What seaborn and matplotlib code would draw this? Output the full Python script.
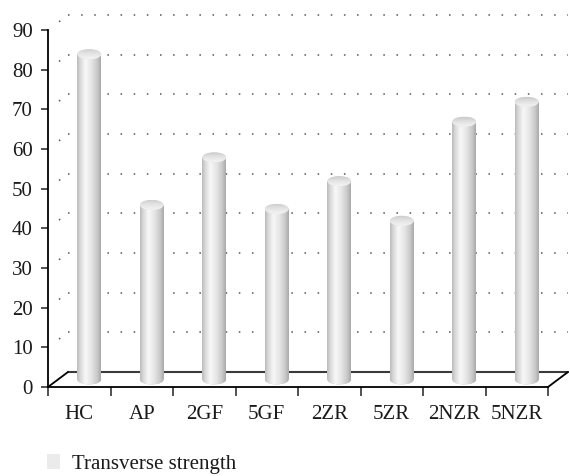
import numpy as np
import pandas as pd
import matplotlib
matplotlib.use('Agg')
import matplotlib.pyplot as plt
import matplotlib.transforms as mtransforms
from matplotlib.colors import LinearSegmentedColormap
from matplotlib.patches import Ellipse, Patch
import seaborn as sns

# data
groups = ['HC', 'AP', '2GF', '5GF', '2ZR', '5ZR', '2NZR', '5NZR']
strength = [82, 44, 56, 43, 50, 40, 65, 70]
series_name = 'Transverse strength'
y_ticks = list(range(0, 91, 10))

sns.set_theme(style='white')
plt.rcParams['font.family'] = ['Liberation Serif', 'DejaVu Serif']

fig = plt.figure(figsize=(5.7, 4.76), dpi=100)
ax = fig.add_axes([48 / 570, 89 / 476, 500 / 570, 357 / 476])

df = pd.DataFrame({'group': groups, 'value': strength})
sns.barplot(data=df, x='group', y='value', width=0.38, color='#dcdcdc',
            ax=ax, zorder=3)

ax.set_xlim(-0.5, len(groups) - 0.5)
ax.set_ylim(0, 90)

# 3d look: depth offset of the back wall (inches)
depth_x, depth_y = 0.2, 0.15
grid_tr = ax.transData + mtransforms.ScaledTranslation(depth_x, depth_y, fig.dpi_scale_trans)
bar_tr = ax.transData + mtransforms.ScaledTranslation(depth_x / 2, depth_y / 2, fig.dpi_scale_trans)
# depth in data units (for the side lines)
ax_w_px = 500.0
ax_h_px = 357.0
dx_u = depth_x * 100 / (ax_w_px / len(groups))
dy_u = depth_y * 100 / (ax_h_px / 90.0)
cap_h = 10 / (ax_h_px / 90.0)

x0, x1 = -0.5, len(groups) - 0.5

# back wall dotted gridlines
for v in y_ticks[1:]:
    ax.plot([x0, x1], [v, v], transform=grid_tr, color='#555555', lw=1.1,
            ls=(0, (1, 7.6)), zorder=1, clip_on=False)
    ax.plot([x0, x0 + dx_u], [v, v + dy_u], color='#555555', lw=1.1,
            ls=(12, (1, 20)), zorder=1, clip_on=False)

# floor
ax.plot([x0, x1], [0, 0], transform=grid_tr, color='#3a3a3a', lw=1.5,
        zorder=2, clip_on=False)
ax.plot([x0, x0 + dx_u], [0, dy_u], color='black', lw=1.3, zorder=2, clip_on=False)
ax.plot([x1, x1 + dx_u], [0, dy_u], color='black', lw=1.3, zorder=2, clip_on=False)

# cylinder shading
cyl = LinearSegmentedColormap.from_list('cyl', [
    (0.0, '#b8b8b8'), (0.12, '#d6d6d6'), (0.35, '#f8f8f8'),
    (0.6, '#e6e6e6'), (0.85, '#c8c8c8'), (1.0, '#a8a8a8')])
capmap = LinearSegmentedColormap.from_list('cap', [
    (0.0, '#f4f4f4'), (0.5, '#e4e4e4'), (1.0, '#cacaca')])
hgrad = np.linspace(0, 1, 256).reshape(1, -1)
vgrad = np.linspace(0, 1, 64).reshape(-1, 1)

for p in ax.patches:
    bx, bw, bh = p.get_x(), p.get_width(), p.get_height()
    p.set_transform(bar_tr)
    p.set_edgecolor('none')
    im = ax.imshow(hgrad, cmap=cyl, extent=[bx, bx + bw, 0, bh], aspect='auto',
                   transform=bar_tr, zorder=4, interpolation='bicubic')
    im.set_clip_path(p)
    # rounded bottom
    bot = Ellipse((bx + bw / 2, 0), bw, cap_h, transform=bar_tr,
                  facecolor='#d0d0d0', edgecolor='none', zorder=3)
    ax.add_patch(bot)
    im2 = ax.imshow(hgrad, cmap=cyl, extent=[bx, bx + bw, -cap_h / 2, 0],
                    aspect='auto', transform=bar_tr, zorder=4, interpolation='bicubic')
    im2.set_clip_path(bot)
    # top cap
    top = Ellipse((bx + bw / 2, bh), bw, cap_h, transform=bar_tr,
                  facecolor='#dedede', edgecolor='none', zorder=5)
    ax.add_patch(top)
    im3 = ax.imshow(vgrad, cmap=capmap, extent=[bx, bx + bw, bh - cap_h / 2, bh + cap_h / 2],
                    aspect='auto', transform=bar_tr, zorder=6, interpolation='bicubic',
                    origin='lower')
    im3.set_clip_path(top)

ax.set_xlim(x0, x1)
ax.set_ylim(0, 90)

# axes
ax.set_xlabel('')
ax.set_ylabel('')
ax.set_yticks(y_ticks)
ax.set_xticks(np.arange(x0, x1 + 0.01, 1))
ax.set_xticklabels([])
ax.set_xticks(range(len(groups)), labels=groups, minor=True)
ax.tick_params(axis='y', direction='out', length=5, width=1.2, color='#333333',
               pad=6, labelsize=15, labelcolor='#1a1a1a', left=True)
ax.tick_params(axis='x', which='major', direction='out', length=6.5, width=1.2,
               color='#333333', bottom=True)
ax.tick_params(axis='x', which='minor', length=0, pad=13, labelsize=15,
               labelcolor='#1a1a1a')
for s in ['top', 'right']:
    ax.spines[s].set_visible(False)
for s in ['left', 'bottom']:
    ax.spines[s].set_color('black')
    ax.spines[s].set_linewidth(1.3)
    ax.spines[s].set_zorder(7)

fig.legend(handles=[Patch(facecolor='#ebebeb', edgecolor='none')], labels=[series_name],
           loc='center left', bbox_to_anchor=(47 / 570, 12 / 476), frameon=False,
           fontsize=15, handlelength=0.6, handleheight=0.7, handletextpad=0.6,
           borderpad=0, borderaxespad=0, labelcolor='#1a1a1a')

fig.savefig('out.png', dpi=100)
